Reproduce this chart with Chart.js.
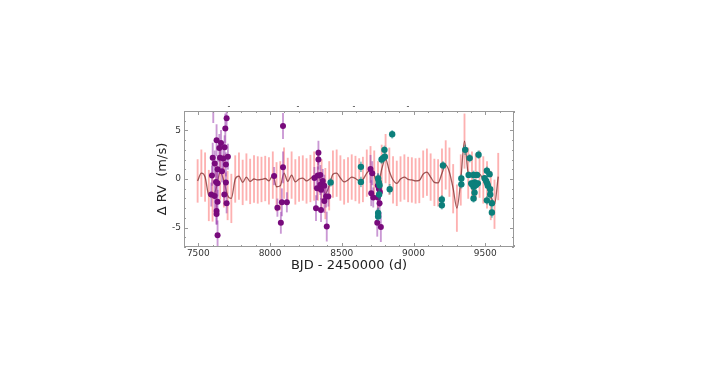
<!DOCTYPE html>
<html>
<head>
<meta charset="utf-8">
<script src="https://cdn.jsdelivr.net/npm/chart.js@4.4.0/dist/chart.umd.min.js"></script>
<style>
  html, body { margin: 0; padding: 0; background: #fff; }
  #wrap { position: relative; width: 714px; height: 367px; }
  .dash { position: absolute; top: 106px; font: 8px "DejaVu Sans", sans-serif; color: #333; transform: translate(-50%, -50%); }
</style>
</head>
<body>
<div id="wrap">
  <canvas id="rvChart" width="714" height="367"></canvas>
  <span class="dash" style="left:229px">-</span>
  <span class="dash" style="left:298px">-</span>
  <span class="dash" style="left:354px">-</span>
  <span class="dash" style="left:408px">-</span>
</div>
<script>
// modele GP (courbe + incertitude)
const modelT = [7495, 7521, 7547, 7573, 7599, 7625, 7652, 7678, 7704, 7730,
  7757, 7783, 7809, 7835, 7861, 7888, 7914, 7940, 7966, 7992,
  8019, 8045, 8071, 8097, 8123, 8150, 8176, 8202, 8228, 8254,
  8281, 8307, 8333, 8359, 8385, 8412, 8438, 8464, 8490, 8516,
  8543, 8569, 8595, 8621, 8647, 8674, 8700, 8726, 8752, 8778,
  8805, 8831, 8857, 8883, 8909, 8936, 8962, 8988, 9014, 9040,
  9067, 9093, 9119, 9145, 9171, 9198, 9224, 9250, 9276, 9302,
  9329, 9355, 9381, 9407, 9433, 9460, 9486, 9512, 9538, 9564, 9590];
const modelRV = [-0.2, 0.6, 0.2, -1.7, -1.85, -0.9, 0.7, -0.2, -1.7, -2.0,
  0.0, 0.3, -0.35, 0.2, -0.25, 0.0, -0.1, -0.05, 0.05, -0.2,
  0.4, -0.8, -0.7, 0.6, -0.25, 0.4, -0.3, 0.0, 0.1, -0.2,
  0.05, 0.3, 0.3, -0.5, -1.5, -0.7, 0.5, 0.6, 0.1, -0.3,
  -0.1, 0.2, 0.05, -0.2, -0.05, 0.6, 0.95, 0.4, -0.7, 1.0,
  2.1, 0.8, -0.1, -0.45, 0.0, 0.2, -0.05, -0.1, -0.2, -0.15,
  0.5, 0.7, 0.2, -0.35, -0.4, 0.6, 1.45, 0.7, -1.0, -3.0,
  -0.1, 3.9, 0.6, 0.4, 0.2, 0.5, -0.1, -0.6, -1.7, -2.6, 0.25];
const modelErr = [2.2, 2.4, 2.5, 2.6, 2.5, 2.7, 2.8, 2.7, 2.5, 2.5,
  2.4, 2.4, 2.3, 2.4, 2.3, 2.4, 2.4, 2.3, 2.3, 2.4,
  2.4, 2.5, 2.5, 2.6, 2.4, 2.4, 2.3, 2.3, 2.3, 2.3,
  2.4, 2.5, 2.5, 2.5, 2.6, 2.5, 2.4, 2.4, 2.3, 2.3,
  2.3, 2.3, 2.3, 2.3, 2.3, 2.4, 2.4, 2.5, 2.5, 2.5,
  2.5, 2.4, 2.4, 2.3, 2.3, 2.3, 2.3, 2.3, 2.3, 2.3,
  2.4, 2.4, 2.4, 2.4, 2.4, 2.5, 2.5, 2.5, 2.5, 2.4,
  2.6, 2.8, 2.6, 2.4, 2.4, 2.4, 2.4, 2.4, 2.5, 2.5, 2.4];

// instrument 1 (violet)
const purpleT = [7697, 7688, 7627, 7658, 7683, 7646, 7600, 7651, 7706, 7674,
  7614, 7692, 7634, 7665, 7595, 7623, 7692, 7634, 7590, 7681,
  7614, 7634, 7697, 7627, 7627, 7634, 7604,
  8090, 8090, 8028, 8051, 8082, 8117, 8075,
  8337, 8337, 8309, 8332, 8350, 8367, 8350, 8378, 8327, 8355, 8390, 8406, 8378, 8320, 8355, 8395,
  8700, 8712, 8705, 8719, 8751, 8758, 8765, 8751, 8763, 8747, 8772];
const purpleRV = [6.25, 5.2, 4.0, 3.7, 3.26, 3.2, 2.2, 2.2, 2.3, 2.1,
  1.6, 1.5, 1.0, 0.8, 0.35, -0.3, -0.35, -0.45, -1.6, -1.6,
  -1.75, -2.35, -2.5, -3.3, -3.6, -5.8, 7.6,
  5.45, 1.2, 0.3, -2.95, -2.4, -2.4, -4.5,
  2.7, 2.0, 0.1, 0.35, 0.4, -0.2, -0.6, -0.7, -0.94, -1.1, -1.8, -1.8, -2.26, -3.0, -3.2, -4.9,
  1.04, 0.6, -1.46, -1.9, -0.66, -1.0, -1.35, -1.9, -2.5, -4.5, -4.95];
const purpleErr = [1.2, 1.5, 1.6, 1.3, 1.2, 1.4, 1.5, 1.2, 1.3, 1.0,
  1.3, 1.2, 1.4, 1.1, 1.0, 1.2, 1.0, 1.3, 1.2, 1.1,
  1.4, 1.2, 1.0, 1.3, 1.1, 1.5, 1.8,
  1.3, 1.6, 0.9, 0.9, 1.4, 1.0, 1.1,
  1.2, 1.0, 1.1, 0.9, 1.0, 1.2, 1.0, 1.1, 1.2, 1.0, 1.1, 1.0, 1.2, 1.3, 1.2, 1.5,
  1.4, 1.2, 1.3, 1.0, 1.2, 1.4, 1.5, 1.2, 1.1, 1.4, 1.5];

// instrument 2 (sarcelle)
const tealT = [8422, 8633, 8633,
  8851, 8797, 8788, 8800, 8777, 8753, 8758, 8763, 8760, 8834, 8753, 8753,
  9205, 9197, 9197,
  9360, 9391, 9453, 9333, 9333, 9384, 9402, 9418, 9425, 9418, 9425, 9418, 9442, 9448,
  9407, 9435, 9511, 9530, 9506, 9518, 9534, 9495, 9513, 9511, 9534, 9546, 9546];
const tealRV = [-0.35, 1.25, -0.3,
  4.6, 3.0, 2.15, 2.3, 2.0, 0.05, -0.35, -0.65, -1.6, -1.05, -3.5, -3.85,
  1.4, -2.1, -2.7,
  3.0, 2.15, 2.5, 0.05, -0.55, 0.42, -0.45, 0.42, -0.35, -0.8, -1.4, -2.0, 0.42, -0.45,
  -0.55, -0.62, 0.85, 0.5, -0.2, -0.7, -1.05, 0.07, -0.45, -2.2, -1.6, -2.5, -3.45];
const tealErr = [0.4, 0.5, 0.5,
  0.4, 0.4, 0.4, 0.4, 0.4, 0.5, 0.4, 0.4, 0.5, 0.5, 0.5, 0.4,
  0.4, 0.4, 0.4,
  0.5, 0.4, 0.4, 0.4, 0.4, 0.3, 0.3, 0.4, 0.3, 0.4, 0.4, 0.4, 0.3, 0.3,
  0.3, 0.4, 0.4, 0.3, 0.3, 0.4, 0.4, 0.3, 0.3, 0.4, 0.4, 0.4, 0.5];

const xTicks = [7500, 8000, 8500, 9000, 9500];
const yTicks = [-5, 0, 5];

const pts = (t, v) => t.map((x, i) => ({ x, y: v[i] }));
const bars = (t, v, e) => t.map((x, i) => ({ x, y: [v[i] - e[i], v[i] + e[i]] }));

// cadre + graduations vers l'interieur, sur les 4 cotes
const frameTicks = {
  id: 'frameTicks',
  afterDatasetsDraw(chart) {
    const { ctx, chartArea: a, scales: { x, y } } = chart;
    ctx.save();
    ctx.strokeStyle = '#999';
    ctx.lineWidth = 1;
    ctx.strokeRect(a.left + 0.5, a.top + 0.5, a.right - a.left - 1, a.bottom - a.top - 1);
    ctx.beginPath();
    for (let v = Math.ceil(x.min / 100) * 100; v <= x.max; v += 100) {
      const px = Math.round(x.getPixelForValue(v)) + 0.5;
      const len = xTicks.includes(v) ? 4 : 2;
      ctx.moveTo(px, a.bottom); ctx.lineTo(px, a.bottom - len);
      ctx.moveTo(px, a.top); ctx.lineTo(px, a.top + len);
    }
    for (let v = Math.ceil(y.min); v <= y.max; v += 1) {
      const py = Math.round(y.getPixelForValue(v)) + 0.5;
      const len = yTicks.includes(v) ? 4 : 2;
      ctx.moveTo(a.left, py); ctx.lineTo(a.left + len, py);
      ctx.moveTo(a.right, py); ctx.lineTo(a.right - len, py);
    }
    ctx.stroke();
    ctx.restore();
  }
};

new Chart(document.getElementById('rvChart'), {
  type: 'scatter',
  data: {
    datasets: [
      {
        type: 'scatter', data: pts(tealT, tealRV), order: 0,
        pointRadius: 3.2, pointBackgroundColor: '#0c7f7b', pointBorderWidth: 0
      },
      {
        type: 'bar', data: bars(tealT, tealRV, tealErr), order: 1, grouped: false,
        barThickness: 1.2, backgroundColor: 'rgba(20,140,135,0.5)'
      },
      {
        type: 'scatter', data: pts(purpleT, purpleRV), order: 2,
        pointRadius: 3, pointBackgroundColor: '#780a7c', pointBorderWidth: 0
      },
      {
        type: 'bar', data: bars(purpleT, purpleRV, purpleErr), order: 3, grouped: false,
        barThickness: 1.2, backgroundColor: 'rgba(150,50,170,0.5)'
      },
      {
        type: 'line', data: pts(modelT, modelRV), order: 4,
        borderColor: 'rgba(125,40,40,0.75)', borderWidth: 1.3,
        pointRadius: 0, cubicInterpolationMode: 'monotone', fill: false
      },
      {
        type: 'bar', data: bars(modelT, modelRV, modelErr), order: 5, grouped: false,
        barThickness: 1.2, backgroundColor: 'rgba(250,50,50,0.38)'
      }
    ]
  },
  options: {
    responsive: false,
    animation: false,
    layout: { padding: { left: 150, right: 200, top: 111, bottom: 94 } },
    plugins: { legend: { display: false }, tooltip: { enabled: false } },
    scales: {
      x: {
        type: 'linear', min: 7400, max: 9700, offset: false,
        grid: { display: false, drawTicks: false, offset: false },
        border: { display: false },
        afterBuildTicks: s => { s.ticks = xTicks.map(v => ({ value: v })); },
        afterFit: s => { s.height = 26; },
        ticks: {
          padding: 1, maxRotation: 0, color: '#333', font: { family: 'DejaVu Sans', size: 9 },
          callback: v => String(v)
        },
        title: {
          display: true, text: 'BJD - 2450000 (d)', color: '#222',
          font: { family: 'DejaVu Sans', size: 13 }, padding: 0
        }
      },
      y: {
        type: 'linear', min: -7, max: 7,
        grid: { display: false, drawTicks: false },
        border: { display: false },
        afterBuildTicks: s => { s.ticks = yTicks.map(v => ({ value: v })); },
        afterFit: s => { s.width = 34; },
        ticks: {
          padding: 3, color: '#333', font: { family: 'DejaVu Sans', size: 9 },
          callback: v => String(v)
        },
        title: {
          display: true, text: 'Δ RV  (m/s)', color: '#222',
          font: { family: 'DejaVu Sans', size: 13 }, padding: { top: 5, bottom: 0 }
        }
      }
    }
  },
  plugins: [frameTicks]
});
</script>
</body>
</html>
